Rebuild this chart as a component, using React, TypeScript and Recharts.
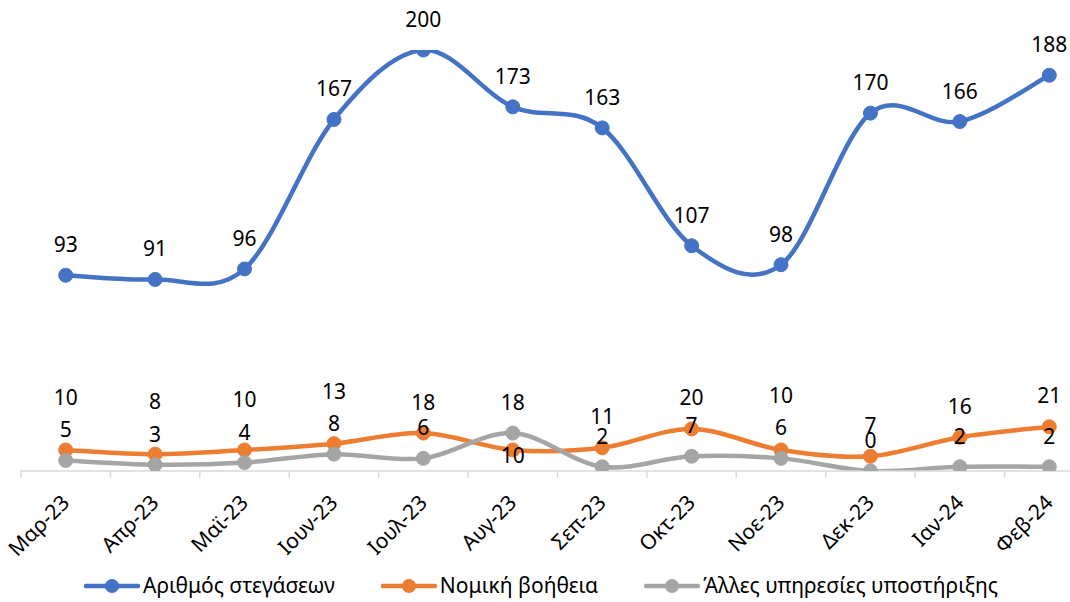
import React from "react";
import { LineChart, Line, XAxis, YAxis, Legend, LabelList } from "recharts";

const months = ["Μαρ-23", "Απρ-23", "Μαϊ-23", "Ιουν-23", "Ιουλ-23", "Αυγ-23", "Σεπ-23", "Οκτ-23", "Νοε-23", "Δεκ-23", "Ιαν-24", "Φεβ-24"];
const housing = [93, 91, 96, 167, 200, 173, 163, 107, 98, 170, 166, 188];
const legalAid = [10, 8, 10, 13, 18, 10, 11, 20, 10, 7, 16, 21];
const otherSupport = [5, 3, 4, 8, 6, 18, 2, 7, 6, 0, 2, 2];

const seriesNames = ["Αριθμός στεγάσεων", "Νομική βοήθεια", "Άλλες υπηρεσίες υποστήριξης"];
const colors = ["#4472C4", "#ED7D31", "#A5A5A5"];

const data = months.map((m, i) => ({
  month: m,
  housing: housing[i],
  legal: legalAid[i],
  other: otherSupport[i],
}));

const FONT = "'Noto Sans', 'Open Sans', sans-serif";
const CHART_H = 602;
const MARGIN_TOP = 50;
const AXIS_H = 91;
const LEGEND_H = 40;
const Y_MAX = 200;
const pxPerUnit = (CHART_H - MARGIN_TOP - AXIS_H - LEGEND_H) / Y_MAX;

// excel-like smoothing (catmull-rom as bezier)
function excelCurve(context: any) {
  let pts: number[][] = [];
  return {
    areaStart() {},
    areaEnd() {},
    lineStart() {
      pts = [];
    },
    point(x: number, y: number) {
      pts.push([+x, +y]);
    },
    lineEnd() {
      if (!pts.length) return;
      context.moveTo(pts[0][0], pts[0][1]);
      for (let i = 0; i < pts.length - 1; i++) {
        const p0 = pts[i - 1] || pts[i];
        const p1 = pts[i];
        const p2 = pts[i + 1];
        const p3 = pts[i + 2] || pts[i + 1];
        context.bezierCurveTo(
          p1[0] + (p2[0] - p0[0]) / 6,
          p1[1] + (p2[1] - p0[1]) / 6,
          p2[0] - (p3[0] - p1[0]) / 6,
          p2[1] - (p3[1] - p1[1]) / 6,
          p2[0],
          p2[1]
        );
      }
    },
  };
}

const MonthTick = (props: any) => {
  const { x, y, payload } = props;
  const half = payload.offset || 0;
  return (
    <g>
      <line x1={x - half} y1={y} x2={x - half} y2={y + 7} stroke="#D9D9D9" strokeWidth={1.5} />
      <g transform={`translate(${x + 5},${y + 33})`}>
        <text x={0} y={0} textAnchor="end" transform="rotate(-45)" fill="#000" fontSize={21} fontFamily={FONT}>
          {payload.value}
        </text>
      </g>
    </g>
  );
};

// orange labels get pushed up (or below) when they would sit on the grey ones
const LegalLabel = (props: any) => {
  const { index, value } = props;
  const vb = props.viewBox || {};
  const x = vb.x ?? props.x;
  const y = vb.y ?? props.y;
  const gap = (legalAid[index] - otherSupport[index]) * pxPerUnit;
  let center = y - 31;
  if (gap < 0) center = y + 6;
  else if (gap < 14) center = y + gap - 63;
  return (
    <text x={x} y={center + 7.5} textAnchor="middle" fill="#000" fontSize={21} fontFamily={FONT}>
      {value}
    </text>
  );
};

const LegendBox = () => (
  <div style={{ display: "flex", justifyContent: "center", alignItems: "center", width: 1082, paddingTop: 11, lineHeight: 1.2, fontFamily: FONT, fontSize: 21, color: "#000" }}>
    {seriesNames.map((name, i) => (
      <div key={name} style={{ display: "flex", alignItems: "center", marginRight: i < 2 ? 46 : 0 }}>
        <svg width={56} height={16} style={{ marginRight: 3 }}>
          <line x1={2} y1={8} x2={54} y2={8} stroke={colors[i]} strokeWidth={4.5} strokeLinecap="round" />
          <circle cx={28} cy={8} r={7} fill={colors[i]} />
        </svg>
        <span>{name}</span>
      </div>
    ))}
  </div>
);

const labelProps = { position: "top" as const, offset: 23, fill: "#000", fontSize: 21, fontFamily: FONT };

export default function App() {
  return (
    <div style={{ position: "absolute", left: 0, top: 0, width: 1070, height: 602, overflow: "hidden", background: "#fff" }}>
      <LineChart width={1100} height={CHART_H} data={data} margin={{ top: MARGIN_TOP, right: 6, left: 21, bottom: 0 }}>
        <XAxis
          dataKey="month"
          scale="band"
          interval={0}
          height={AXIS_H}
          tickSize={0}
          tickMargin={0}
          tickLine={false}
          axisLine={{ stroke: "#D9D9D9", strokeWidth: 1.5 }}
          tick={<MonthTick />}
        />
        <YAxis hide domain={[0, Y_MAX]} allowDataOverflow />
        <Legend verticalAlign="bottom" height={LEGEND_H} content={<LegendBox />} wrapperStyle={{ left: 0, width: 1082 }} />
        <Line dataKey="housing" type={excelCurve as any} stroke={colors[0]} strokeWidth={4.5} dot={{ r: 7, fill: colors[0], stroke: colors[0], strokeWidth: 1 }} activeDot={false} isAnimationActive={false}>
          <LabelList dataKey="housing" {...labelProps} />
        </Line>
        <Line dataKey="legal" type={excelCurve as any} stroke={colors[1]} strokeWidth={4.5} dot={{ r: 7, fill: colors[1], stroke: colors[1], strokeWidth: 1 }} activeDot={false} isAnimationActive={false}>
          <LabelList dataKey="legal" content={<LegalLabel />} />
        </Line>
        <Line dataKey="other" type={excelCurve as any} stroke={colors[2]} strokeWidth={4.5} dot={{ r: 7, fill: colors[2], stroke: colors[2], strokeWidth: 1 }} activeDot={false} isAnimationActive={false}>
          <LabelList dataKey="other" {...labelProps} />
        </Line>
      </LineChart>
    </div>
  );
}
